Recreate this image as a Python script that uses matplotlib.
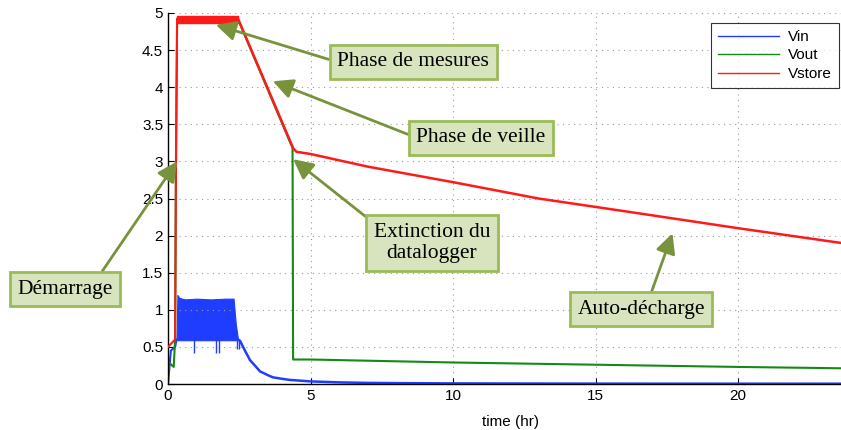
import numpy as np
import matplotlib.pyplot as plt

# ---- data (time in hr, voltage in V) ----
vin_t = [0, 0.1, 0.25, 0.3]
vin_v = [0, 0.45, 0.5, 0.6]
# noisy band of Vin during the measurement phase (envelope)
vin_band_t = [0.3, 0.33, 0.4, 0.6, 1.0, 1.5, 2.0, 2.3, 2.38, 2.45]
vin_band_hi = [0.6, 1.2, 1.16, 1.14, 1.15, 1.14, 1.15, 1.15, 0.8, 0.62]
vin_band_lo = [0.6, 0.59, 0.59, 0.59, 0.59, 0.59, 0.59, 0.59, 0.59, 0.59]
vin_spike_t = [0.91, 1.68, 1.79, 2.42, 2.5]
vin_spike_v = [0.42, 0.42, 0.42, 0.47, 0.47]
vin_decay_t = [2.45, 2.53, 2.7, 2.88, 3.0, 3.23, 3.5, 3.68, 4.0, 4.28, 5, 6, 7, 8, 10, 15, 20, 24]
vin_decay_v = [0.6, 0.58, 0.45, 0.32, 0.27, 0.17, 0.12, 0.09, 0.07, 0.055, 0.035, 0.022,
               0.015, 0.012, 0.008, 0.005, 0.004, 0.004]

vout_t = [0, 0.2, 0.25, 0.28, 0.32, 2.45, 4.37, 4.39, 5, 10, 15, 20, 24]
vout_v = [0.3, 0.23, 0.6, 3.0, 4.92, 4.92, 3.18, 0.33, 0.33, 0.29, 0.26, 0.23, 0.21]

vstore_t = [0, 0.25, 0.28, 0.32]
vstore_v = [0.5, 0.6, 3.0, 4.92]
vstore_band_t = [0.32, 2.45]
vstore_band_hi = [4.96, 4.96]
vstore_band_lo = [4.87, 4.87]
vstore_tail_t = [2.45, 4.39, 4.5, 5, 7, 10, 13, 16, 20, 24]
vstore_tail_v = [4.93, 3.18, 3.13, 3.10, 2.93, 2.72, 2.50, 2.33, 2.10, 1.88]

# annotations: text, arrow tip (t, V), text centre (t, V), arrow start on box
labels = ['Phase de mesures', 'Phase de veille', 'Extinction du\ndatalogger',
          'Démarrage', 'Auto-décharge']
tips = [(1.68, 4.84), (3.68, 4.08), (4.39, 3.03), (0.32, 3.0), (17.7, 2.03)]
centres = [(8.6, 4.34), (10.98, 3.32), (9.26, 1.90), (-3.61, 1.28), (16.6, 1.01)]
starts = [(0, 0.5), (0, 0.5), (0, 1), (0.83, 1), (0.56, 1)]

blue = '#1f3dff'
green = '#138a13'
red = '#ff1a1a'

fig = plt.figure(figsize=(8.41, 4.30), dpi=100)
ax = fig.add_axes([168 / 841, 1 - 384 / 430, (852 - 168) / 841, (384 - 13) / 430])

# Vin
ax.plot(vin_t, vin_v, color=blue, lw=1.5, label='Vin')
ax.fill_between(vin_band_t, vin_band_lo, vin_band_hi, color=blue, lw=0.8)
ax.vlines(vin_spike_t, vin_spike_v, 0.6, color=blue, lw=1)
ax.plot(vin_decay_t, vin_decay_v, color=blue, lw=1.8)

# Vout
ax.plot(vout_t, vout_v, color=green, lw=1.5, label='Vout')

# Vstore
ax.plot(vstore_t, vstore_v, color=red, lw=1.5, label='Vstore', zorder=3)
ax.fill_between(vstore_band_t, vstore_band_lo, vstore_band_hi, color=red, lw=1, zorder=3)
ax.plot(vstore_tail_t, vstore_tail_v, color=red, lw=1.8, zorder=3)

ax.set_xlim(0, 24)
ax.set_ylim(0, 5)
ax.set_xticks([0, 5, 10, 15, 20])
ax.set_yticks(np.arange(0, 5.01, 0.5))
ax.set_yticklabels(['0', '0.5', '1', '1.5', '2', '2.5', '3', '3.5', '4', '4.5', '5'])
ax.grid(True, linestyle=(0, (1, 4)), color='#999999', lw=0.8)
ax.tick_params(direction='in', length=4, labelsize=11, width=0.8)
for s in ['top', 'right']:
    ax.spines[s].set_visible(False)
for s in ['left', 'bottom']:
    ax.spines[s].set_linewidth(1)
for lab in ax.get_xticklabels() + ax.get_yticklabels():
    lab.set_family('Liberation Sans')
ax.set_xlabel('time (hr)', family='Liberation Sans', fontsize=11, labelpad=9)

leg = ax.legend(loc='upper left', bbox_to_anchor=(711 / 841, 1 - 23 / 430),
                bbox_transform=fig.transFigure, borderaxespad=0, fancybox=False,
                edgecolor='black', prop={'family': 'Liberation Sans', 'size': 11},
                handlelength=4, labelspacing=0.3, borderpad=0.45, handletextpad=0.6)
leg.get_frame().set_linewidth(0.8)
for line in leg.get_lines():
    line.set_linewidth(1)

for txt, tip, c, rp in zip(labels, tips, centres, starts):
    ax.annotate(txt, xy=tip, xytext=c, ha='center', va='center',
                family='Liberation Serif', fontsize=15.5, annotation_clip=False,
                linespacing=1.15, zorder=5,
                bbox=dict(boxstyle='square,pad=0.35', fc='#d7e4bd', ec='#9bbb59', lw=2),
                arrowprops=dict(arrowstyle='-|>,head_length=0.8,head_width=0.4',
                                mutation_scale=15, color='#77933c', lw=2,
                                shrinkA=0, shrinkB=0, relpos=rp))

fig.savefig('out.png', dpi=100)
